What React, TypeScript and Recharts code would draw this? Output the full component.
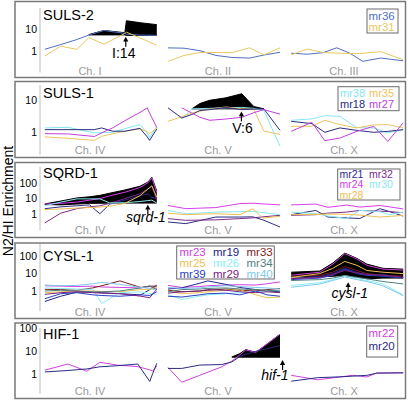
import React from "react";
import { ComposedChart, Line, Area, XAxis, YAxis, ReferenceDot } from "recharts";

const FONT = "Arial, 'Liberation Sans', Helvetica, sans-serif";
const SEG_STEP = 7.7; // chromosome window length 7 + gap 0.7
const PAD = 8; // extra svg room above/below the plot so tick labels are not cut

const COLORS: Record<string, string> = {
  mr36: "#4f6fc0", mr31: "#e9c860",
  mr38: "#84e6f2", mr35: "#ecc45c", mr18: "#2a2a80", mr27: "#c43cdc",
  mr21: "#2b2b85", mr32: "#7a2a8a", mr24: "#d83ce8", mr30: "#8ae8f0", mr28: "#f0c050",
  mr23: "#d040e0", mr19: "#22228a", mr33: "#7a1f1f", mr25: "#f0c050", mr26: "#88f0f8",
  mr34: "#4f8080", mr39: "#2840c8", mr29: "#7a2080", mr40: "#80c8ec",
  mr22: "#d040e0", mr20: "#2a2a80",
};

// ---------- SULS-2 ----------
const suls2Chrom = ["Ch. I", "Ch. II", "Ch. III"];
const suls2Pos = [[0, 1, 2, 2.75, 3.7, 5, 5.1, 6, 7], [0, 1, 2, 3, 4, 5.1, 6, 7], [0, 1, 2, 2.85, 3.66, 4.47, 5.6, 7]];
const suls2Mr36 = [[1.2, 2.0, 3.4, 5.5, 9, 6.6, 6, 5.5, 5.3], [1.4, 1.35, 1.03, 0.62, 0.5, 0.47, 0.65, 0.87], [0.79, 0.71, 0.84, 1.41, 0.79, 0.33, 0.47, 0.35]];
const suls2Mr31 = [[0.59, 1.69, 1.19, 4.2, 2.08, 6.5, 7.5, 3.9, 1.87], [0.33, 0.62, 0.85, 0.86, 0.84, 1.41, 0.66, 1.4], [0.66, 1.23, 0.85, 0.8, 0.76, 0.78, 0.93, 0.39]];
const suls2Band = [[null, null, null, [5.6, 5.8], [5.6, 9], [5.6, 7.1], [5.3, 25.6], [5.3, 20.5], [5.3, 16.8]], [], []];

// ---------- SULS-1 ----------
const suls1Chrom = ["Ch. IV", "Ch. V", "Ch. X"];
const suls1Pos = [[0, 1.45, 3.1, 3.55, 4.25, 5, 5.95, 6.4, 6.55, 7], [0, 0.86, 1.49, 1.99, 2.61, 3.61, 4.61, 5.36, 5.99, 7], [0, 1.29, 2.1, 3.04, 4.1, 5.16, 6.04, 7]];
const suls1Mr38 = [[1.37, 1.43, 0.96, 0.98, 1.0, 1.3, 1.74, 0.95, 0.68, 1.54], [null, 2.6, 5.4, 5.5, 5.6, 5.8, 6.0, 5.6, 4.8, 0.37], [2.37, 2.62, 3.3, 3.16, 1.4, 1.37, 0.96, 1.21]];
const suls1Mr35 = [[0.72, 0.65, 0.56, 0.75, 0.9, 1.08, 1.28, 1.05, 0.91, 1.37], [2.2, 3.1, 4.0, 4.5, 5.3, 6.2, 5.4, 5.2, 1.1, 0.85], [1.54, 1.54, 2.37, 1.74, 1.37, 1.7, 1.74, 1.37]];
const suls1Mr18 = [[1.21, 1.21, 1.21, 1.37, 1.08, 1.08, 1.33, 0.72, 0.56, 1.28], [5.8, 2.8, 3.6, 4.8, 5.1, 6.0, 5.1, 5.3, 5.4, 1.15], [2.2, 1.87, 1.0, 1.37, 1.15, 1.0, 1.07, 1.21]];
const suls1Mr27 = [[0.91, 0.89, 0.74, 0.96, 1.38, 2.3, 4.2, 5.8, 4.0, 1.4], [null, 5.8, 4.0, 2.94, 2.37, 2.6, 2.94, 4.1, 5.1, 3.7], [1.07, 2.05, 0.55, 0.66, 1.07, 1.54, 0.52, 1.97]];
const suls1Band = [[], [null, null, [5.4, 5.4], [5.4, 7.9], [5.4, 10], [5.4, 11.9], [5.4, 16], [5.4, 6.4], [5.4, 5.4], null], []];

// ---------- SQRD-1 ----------
const sqrdChrom = ["Ch. IV", "Ch. V", "Ch. X"];
const sqrdPos = [[0, 1, 2, 2.8, 3.44, 4.06, 5, 5.94, 6.44, 6.69, 7], [0, 1.11, 2.99, 4.49, 5.3, 5.93, 7], [0, 1.54, 2.29, 3.48, 4.29, 5.54, 6.16, 7]];
const sqrdMr21 = [[2.3, 3, 3.5, 4, 1.1, 4.5, 8, 15, 20, 12, 10], [0.33, 0.26, 0.68, 0.68, 0.7, 0.45, 0.16], [0.96, 1.78, 0.68, 0.6, 0.55, 2.3, 1.5, 0.78]];
const sqrdMr32 = [[0.29, 1.2, 2.3, 3, 3.5, 5, 10, 20, 40, 60, 8], [0.54, 0.42, 0.45, 0.54, 0.6, 0.7, 0.87], [0.87, 0.96, 1.2, 1.4, 1.78, 1.6, 1.5, 1.28]];
const sqrdMr24 = [[4.5, 5, 6, 8, 10, 15, 25, 50, 100, 200, 25], [3.65, 2.3, 2.7, 4.8, 5.1, 4.6, 4.0], [4.0, 4.5, 2.8, 3.9, 2.9, 3.65, 3, 2.2]];
const sqrdMr30 = [[3.5, 6, 9.6, 9.6, 9.6, 5.3, 5.5, 6.5, 7.5, 8, 5.2], [1.78, 1.1, 1.39, 1.5, 1.54, 1.3, 0.96], [1.39, 1.1, 0.8, 0.54, 1.8, 1.5, 0.96, 1.39]];
const sqrdMr28 = [[2.0, 2.2, 2.5, 2.7, 2.9, 3.3, 5, 15, 40, 65, 12], [1.2, 0.96, 1.1, 0.96, 2.3, 0.59, 0.75], [0.96, 1.0, 1.05, 1.0, 0.9, 0.68, 0.75, 0.87]];
const sqrdBand = [[[4.2, 4.6], [4, 7], [4.5, 11], [5, 13], [5, 16], [5.2, 22], [5.2, 35], [5.2, 60], [5.2, 110], [5.2, 220], [5.2, 30]], [], []];

// ---------- CYSL-1 ----------
const cyslChrom = ["Ch. IV", "Ch. V", "Ch. X"];
const cyslPos = [[0, 1, 2, 3, 3.56, 4.69, 6, 6.56, 7], [0, 0.86, 1.99, 2.49, 3.61, 4.49, 5.49, 6.18, 7], [0, 1.79, 2.6, 3.35, 4.1, 4.73, 5.73, 7]];
const cyslMr23 = [[2.0, 1.9, 1.8, 1.9, 1.7, 1.6, 1.5, 1.8, 1.4], [2.1, 1.6, 1.8, 2.0, 2.2, 2.3, 2.2, 2.6, 3.3], [8, 12, 35, 140, 70, 30, 18, 16]];
const cyslMr19 = [[0.25, 0.5, 0.85, 0.9, 0.8, 0.7, 0.6, 1.2, 2.2], [1.3, 1.5, 2.8, 3.8, 2.4, 1.6, 1.2, 1.0, 0.9], [5, 7, 10, 20, 12, 8, 9, 6]];
const cyslMr33 = [[1.25, 1.2, 1.1, 1.5, 2.0, 3.8, 1.6, 1.9, 1.9], [1.1, 0.9, 1.0, 1.1, 1.3, 1.1, 1.0, 1.2, 1.4], [7, 8, 12, 25, 15, 10, 8, 7]];
const cyslMr25 = [[0.8, 0.9, 1.0, 1.0, 0.95, 0.9, 1.2, 1.25, 1.6], [1.0, 0.7, 0.8, 0.9, 1.1, 1.2, 0.6, 0.41, 0.45], [6, 10, 20, 50, 30, 15, 12, 10]];
const cyslMr26 = [[1.5, 1.4, 1.3, 1.25, 0.19, 0.8, 0.9, 0.7, 0.64], [0.6, 0.33, 0.5, 0.6, 0.7, 0.8, 0.9, 1.0, 1.1], [2.06, 3, 4.5, 7.8, 5, 4, 2.55, 0.59]];
const cyslMr34 = [[1.0, 1.1, 1.0, 0.9, 0.9, 1.0, 1.5, 1.95, 1.2], [0.9, 1.2, 1.3, 1.4, 1.5, 1.3, 1.2, 1.1, 1.0], [4, 4.5, 5.5, 7.8, 6, 5, 3.5, 2.55]];
const cyslMr39 = [[0.36, 0.7, 0.8, 0.6, 0.55, 0.5, 0.6, 0.55, 0.9], [0.5, 0.45, 0.6, 0.7, 0.75, 0.6, 1.0, 0.6, 0.5], [4.5, 5.5, 8, 18, 10, 8, 7, 5.5]];
const cyslMr29 = [[0.64, 0.8, 0.9, 0.8, 0.75, 0.7, 0.5, 0.41, 1.3], [0.75, 0.9, 1.0, 1.2, 1.1, 0.9, 0.8, 0.9, 0.8], [5, 6, 9, 15, 11, 9, 8, 6]];
const cyslMr40 = [[2.2, 2.0, 2.1, 2.6, 3.1, 2.4, 1.6, 1.4, 1.1], [1.6, 1.4, 1.5, 1.7, 2.0, 1.8, 1.6, 1.5, 1.3], [1.64, 2.5, 4, 6.3, 4.5, 3.5, 2, 0.54]];
const cyslBand = [[], [], [[6.3, 12], [6.5, 14], [7, 40], [7.8, 150], [6.5, 75], [5, 35], [5.5, 20], [5.5, 18]]];

// ---------- HIF-1 ----------
const hifChrom = ["Ch. IV", "Ch. V", "Ch. X"];
const hifPos = [[0, 1.44, 2.63, 3.44, 4.5, 5.81, 6.56, 6.75, 7], [0, 0.86, 1.99, 3.36, 3.99, 4.49, 4.86, 5.49, 7], [0, 1.66, 3.04, 3.85, 4.73, 5.35, 7]];
const hifMr22 = [[1.55, 2.84, 1.4, 3.38, 2.57, 2.2, 1.6, 1.44, 2.3], [2.03, 0.47, 0.93, 2.16, 3.8, 7, 11.5, 9, 54], [0.93, 0.6, 0.79, 0.93, 0.79, 1.18, 1.18]];
const hifMr20 = [[1.3, 1.5, 1.75, 2.16, 2.4, 2.84, 0.51, 1.14, 3.05], [1.84, 1.84, 2.57, 2.7, 3.5, 5.96, 7.5, 9.9, 17.7], [0.52, 0.74, 0.8, 0.86, 0.93, 1.15, 1.2]];
const hifBand = [[], [null, null, null, null, [5.6, 5.7], [5.6, 8], [5.6, 11.8], [5.6, 9], [5.6, 54]], []];

type Series = { key: string; values: (number | null)[][] };

function buildRows(pos: number[][], series: Series[], band: any[][]) {
  const rows: any[] = [];
  pos.forEach((seg, s) => {
    seg.forEach((p, i) => {
      const row: any = { x: s * SEG_STEP + p };
      series.forEach((sr) => {
        const v = sr.values[s][i];
        row[sr.key] = v == null ? null : v;
      });
      const b = band[s] ? band[s][i] : null;
      row.band = b ? b : null;
      rows.push(row);
    });
    if (s < pos.length - 1) {
      const gap: any = { x: s * SEG_STEP + 7.35, band: null };
      series.forEach((sr) => (gap[sr.key] = null));
      rows.push(gap);
    }
  });
  return rows;
}

const panels = [
  {
    title: "SULS-2", chrom: suls2Chrom, pos: suls2Pos, band: suls2Band,
    series: [{ key: "mr36", values: suls2Mr36 }, { key: "mr31", values: suls2Mr31 }],
    domain: [0.1, 100], ticks: [1, 10], plot: [8, 72.5], box: [1.5, 77.5], titleY: 20, chromY: 75,
    legend: { x: 367, y: 9, w: 31, h: 24, rows: [["mr36"], ["mr31"]], base: [19.5, 31], cols: [368.5], font: 11.5 },
    arrow: { x: 5.06, y: 4.6, label: "I:14", italic: false, dx: -2, dy: 21 }, bandOnTop: true,
  },
  {
    title: "SULS-1", chrom: suls1Chrom, pos: suls1Pos, band: suls1Band,
    series: [{ key: "mr38", values: suls1Mr38 }, { key: "mr35", values: suls1Mr35 }, { key: "mr18", values: suls1Mr18 }, { key: "mr27", values: suls1Mr27 }],
    domain: [0.2, 30], ticks: [1, 10], plot: [85.4, 155.1], box: [81.5, 157.5], titleY: 98, chromY: 154,
    legend: { x: 338, y: 86.7, w: 61, h: 24, rows: [["mr38", "mr35"], ["mr18", "mr27"]], base: [97, 108], cols: [340, 369], font: 11 },
    arrow: { x: 12.29, y: 4.5, label: "V:6", italic: false, dx: 1, dy: 21.3 }, bandOnTop: false,
  },
  {
    title: "SQRD-1", chrom: sqrdChrom, pos: sqrdPos, band: sqrdBand,
    series: [{ key: "mr21", values: sqrdMr21 }, { key: "mr32", values: sqrdMr32 }, { key: "mr24", values: sqrdMr24 }, { key: "mr30", values: sqrdMr30 }, { key: "mr28", values: sqrdMr28 }],
    domain: [0.1, 1000], ticks: [1, 10, 100], plot: [166.6, 229.8], box: [162.5, 237.5], titleY: 178, chromY: 234,
    legend: { x: 337.7, y: 169, w: 62.3, h: 31, rows: [["mr21", "mr32"], ["mr24", "mr30"], ["mr28"]], base: [177.5, 188, 198.5], cols: [339.5, 369], font: 10.5 },
    arrow: { x: 6.44, y: 4.1, label: "sqrd-1", italic: true, dx: -2, dy: 17.7 }, bandOnTop: false,
  },
  {
    title: "CYSL-1", chrom: cyslChrom, pos: cyslPos, band: cyslBand,
    series: [
      { key: "mr23", values: cyslMr23 }, { key: "mr19", values: cyslMr19 }, { key: "mr33", values: cyslMr33 },
      { key: "mr25", values: cyslMr25 }, { key: "mr26", values: cyslMr26 }, { key: "mr34", values: cyslMr34 },
      { key: "mr39", values: cyslMr39 }, { key: "mr29", values: cyslMr29 }, { key: "mr40", values: cyslMr40 },
    ],
    domain: [0.07, 500], ticks: [1, 10, 100], plot: [243.5, 310.6], box: [243, 318.5], titleY: 261, chromY: 316,
    legend: { x: 176.7, y: 246, w: 97.6, h: 33, rows: [["mr23", "mr19", "mr33"], ["mr25", "mr26", "mr34"], ["mr39", "mr29", "mr40"]], base: [255.5, 266.5, 277.5], cols: [179.5, 213, 246.5], font: 11.5 },
    arrow: { x: 18.96, y: 3.2, label: "cysl-1", italic: true, dx: 1.7, dy: 16.3 }, bandOnTop: false,
  },
  {
    title: "HIF-1", chrom: hifChrom, pos: hifPos, band: hifBand,
    series: [{ key: "mr22", values: hifMr22 }, { key: "mr20", values: hifMr20 }],
    domain: [0.15, 100], ticks: [1, 10, 100], plot: [327.9, 393.7], box: [323, 398.5], titleY: 339, chromY: 395,
    legend: { x: 366.7, y: 326, w: 31, h: 31, rows: [["mr22"], ["mr20"]], base: [337, 349.5], cols: [368.5], font: 11.5 },
    arrow: { x: 14.86, y: 4.19, label: "hif-1", italic: true, dx: -7.7, dy: 20 }, bandOnTop: false,
  },
];

const CHROM_X = [90, 218, 344];

function arrowShape(label: string, italic: boolean, dx: number, dy: number) {
  return (p: any) => {
    const { cx, cy } = p;
    return (
      <g>
        <line x1={cx} y1={cy + 3} x2={cx} y2={cy + 10} stroke="#000" strokeWidth={1.2} />
        <path d={`M${cx - 2.6},${cy + 4.8} L${cx},${cy} L${cx + 2.6},${cy + 4.8} Z`} fill="#000" />
        <text x={cx + dx} y={cy + dy} textAnchor="middle" fontSize={14} fontStyle={italic ? "italic" : "normal"} fontFamily={FONT} fill="#000">
          {label}
        </text>
      </g>
    );
  };
}

function Panel({ cfg }: { cfg: any }) {
  const rows = buildRows(cfg.pos, cfg.series, cfg.band);
  const h = cfg.plot[1] - cfg.plot[0] + 2 * PAD;
  const bandEl = (
    <Area key="band" dataKey="band" type="linear" stroke="#000" strokeWidth={1} fill="#000" fillOpacity={1}
      dot={false} activeDot={false} isAnimationActive={false} connectNulls={false} />
  );
  return (
    <div style={{ position: "absolute", left: 0, top: cfg.plot[0] - PAD }}>
      <ComposedChart width={408} height={h} data={rows} margin={{ top: PAD, right: 4, bottom: PAD, left: 0 }}>
        <XAxis type="number" dataKey="x" domain={[-0.3, 22.45]} hide allowDataOverflow />
        <YAxis scale="log" domain={cfg.domain} ticks={cfg.ticks} allowDataOverflow width={40} interval={0}
          axisLine={{ stroke: "#bdbdbd" }} tickLine={false} tickSize={2} tickMargin={1}
          tick={{ fontSize: 10.5, fill: "#000", fontFamily: FONT }} />
        {!cfg.bandOnTop && bandEl}
        {cfg.series.map((s: Series) => (
          <Line key={s.key} dataKey={s.key} type="linear" stroke={COLORS[s.key]} strokeWidth={1}
            dot={false} activeDot={false} isAnimationActive={false} connectNulls={false} />
        ))}
        {cfg.bandOnTop && bandEl}
        <ReferenceDot x={cfg.arrow.x} y={cfg.arrow.y} r={0} ifOverflow="visible"
          shape={arrowShape(cfg.arrow.label, cfg.arrow.italic, cfg.arrow.dx, cfg.arrow.dy)} />
      </ComposedChart>
    </div>
  );
}

export default function App() {
  return (
    <div style={{ position: "absolute", left: 0, top: 0, width: 408, height: 401, background: "#fff", fontFamily: FONT }}>
      {panels.map((p) => (
        <Panel key={p.title} cfg={p} />
      ))}
      <svg width={408} height={401} style={{ position: "absolute", left: 0, top: 0, pointerEvents: "none" }}>
        <text x={13} y={201} transform="rotate(-90 13 201)" textAnchor="middle" fontSize={14} fontFamily={FONT} fill="#000">
          N2/HI Enrichment
        </text>
        {panels.map((p) => (
          <g key={p.title}>
            <rect x={15} y={p.box[0]} width={390.5} height={p.box[1] - p.box[0]} fill="none" stroke="#7a7a7a" strokeWidth={1.5} />
            <text x={43} y={p.titleY} fontSize={14.5} fontFamily={FONT} fill="#000">{p.title}</text>
            {p.chrom.map((c, i) => (
              <text key={c} x={CHROM_X[i]} y={p.chromY} textAnchor="middle" fontSize={11} fontFamily={FONT} fill="#9a9a9a">{c}</text>
            ))}
            <rect x={p.legend.x} y={p.legend.y} width={p.legend.w} height={p.legend.h} fill="#fff" stroke="#6a6a6a" strokeWidth={1} />
            {p.legend.rows.map((row, ri) =>
              row.map((k, ci) => (
                <text key={k} x={p.legend.cols[ci]} y={p.legend.base[ri]} fontSize={p.legend.font} fontFamily={FONT} fill={COLORS[k]}>{k}</text>
              ))
            )}
          </g>
        ))}
      </svg>
    </div>
  );
}
